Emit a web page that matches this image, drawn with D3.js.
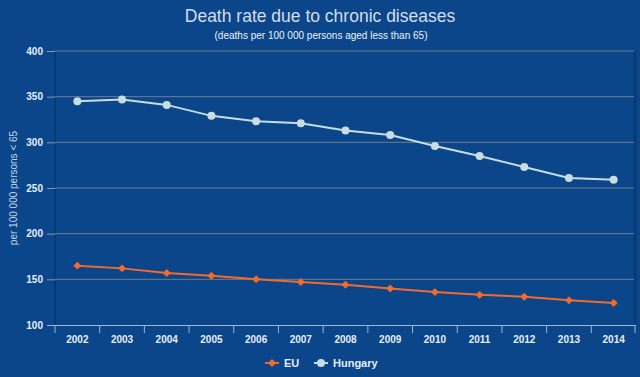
<!DOCTYPE html>
<html>
<head>
<meta charset="utf-8">
<script src="https://cdn.jsdelivr.net/npm/d3@7"></script>
<style>
  html, body { margin: 0; padding: 0; background: #0b458a; }
  svg { display: block; font-family: "Liberation Sans", Arial, sans-serif; }
</style>
</head>
<body>
<div id="chart"></div>
<script>
// Death rate due to chronic diseases — EU vs Hungary

const YEARS   = ["2002","2003","2004","2005","2006","2007","2008","2009","2010","2011","2012","2013","2014"];
const EU      = [165, 162, 157, 154, 150, 147, 144, 140, 136, 133, 131, 127, 124];
const HUNGARY = [345, 347, 341, 329, 323, 321, 313, 308, 296, 285, 273, 261, 259];
const Y_TICKS = [100, 150, 200, 250, 300, 350, 400];

const W = 640, H = 377;
const margin = { top: 51, right: 4, bottom: 52, left: 55 };
const innerW = W - margin.left - margin.right;
const innerH = H - margin.top - margin.bottom;

const svg = d3.select("#chart").append("svg")
  .attr("width", W)
  .attr("height", H);

svg.append("rect")
  .attr("width", W).attr("height", H)
  .attr("fill", "#0b458a");

// Title
svg.append("text")
  .attr("x", W / 2)
  .attr("y", 22)
  .attr("text-anchor", "middle")
  .attr("font-size", 17.5)
  .attr("fill", "#d3deea")
  .text("Death rate due to chronic diseases");

svg.append("text")
  .attr("x", W / 2 + 1)
  .attr("y", 39)
  .attr("text-anchor", "middle")
  .attr("font-size", 10)
  .attr("fill", "#eef3f9")
  .text("(deaths per 100 000 persons aged less than 65)");

const g = svg.append("g")
  .attr("transform", `translate(${margin.left},${margin.top})`);

const x = d3.scaleBand()
  .domain(YEARS)
  .range([0, innerW]);

const y = d3.scaleLinear()
  .domain([100, 400])
  .range([innerH, 0]);

// plot frame shadow lines
g.append("line")
  .attr("x1", 0).attr("x2", 0)
  .attr("y1", 0).attr("y2", innerH)
  .attr("stroke", "#083a73").attr("stroke-width", 2);
g.append("line")
  .attr("x1", innerW - 1).attr("x2", innerW - 1)
  .attr("y1", 0).attr("y2", innerH)
  .attr("stroke", "#083a73").attr("stroke-width", 3);

// Gridlines
g.append("g")
  .selectAll("line")
  .data(Y_TICKS.filter(d => d !== 100))
  .join("line")
  .attr("x1", 0).attr("x2", innerW - 2)
  .attr("y1", d => y(d)).attr("y2", d => y(d))
  .attr("stroke", "#6f7d8f")
  .attr("stroke-width", 1);

// Y axis
const yAxis = g.append("g")
  .call(d3.axisLeft(y).tickValues(Y_TICKS).tickSize(8).tickPadding(4));
yAxis.select(".domain").remove();
yAxis.selectAll(".tick line").attr("stroke", "#7f9bbd");
yAxis.selectAll("text")
  .attr("fill", "#e6eef7")
  .attr("font-size", 10)
  .attr("font-weight", "bold");

// X axis
const xAxis = g.append("g")
  .attr("transform", `translate(0,${innerH})`)
  .call(d3.axisBottom(x).tickSize(0).tickPadding(11));
xAxis.select(".domain")
  .attr("stroke", "#9fb6d2")
  .attr("d", `M-8,0.5H${innerW}`);
xAxis.selectAll("text")
  .attr("fill", "#e6eef7")
  .attr("font-size", 10)
  .attr("font-weight", "bold");

// category boundary ticks
g.append("g")
  .selectAll("line")
  .data(YEARS.concat(["end"]))
  .join("line")
  .attr("x1", (d, i) => i < YEARS.length ? x(d) : x(YEARS[YEARS.length - 1]) + x.bandwidth() - 1)
  .attr("x2", (d, i) => i < YEARS.length ? x(d) : x(YEARS[YEARS.length - 1]) + x.bandwidth() - 1)
  .attr("y1", innerH).attr("y2", innerH + 8)
  .attr("stroke", "#9fb6d2");

// Y axis label
svg.append("text")
  .attr("transform", `translate(17,${margin.top + innerH / 2}) rotate(-90)`)
  .attr("text-anchor", "middle")
  .attr("font-size", 10)
  .attr("fill", "#c8d6e6")
  .text("per 100 000 persons < 65");

const cx = d => x(d) + x.bandwidth() / 2;

const line = d3.line()
  .x((d, i) => cx(YEARS[i]))
  .y(d => y(d));

// Hungary
g.append("path")
  .datum(HUNGARY)
  .attr("fill", "none")
  .attr("stroke", "#c8dde0")
  .attr("stroke-width", 2)
  .attr("d", line);

g.selectAll(".hu-dot")
  .data(HUNGARY)
  .join("circle")
  .attr("class", "hu-dot")
  .attr("cx", (d, i) => cx(YEARS[i]))
  .attr("cy", d => y(d))
  .attr("r", 4)
  .attr("fill", "#c8dde0");

// EU
g.append("path")
  .datum(EU)
  .attr("fill", "none")
  .attr("stroke", "#f56a2c")
  .attr("stroke-width", 2)
  .attr("d", line);

const diamond = d3.symbol().type(d3.symbolDiamond2).size(40);
g.selectAll(".eu-dot")
  .data(EU)
  .join("path")
  .attr("class", "eu-dot")
  .attr("transform", (d, i) => `translate(${cx(YEARS[i])},${y(d)})`)
  .attr("d", diamond)
  .attr("fill", "#f56a2c");

// Legend
const legend = svg.append("g").attr("transform", "translate(265,363)");
const items = [
  { name: "EU", color: "#f56a2c", shape: "diamond", dx: 0 },
  { name: "Hungary", color: "#c8dde0", shape: "circle", dx: 49 }
];
items.forEach(it => {
  const lg = legend.append("g").attr("transform", `translate(${it.dx},0)`);
  lg.append("line")
    .attr("x1", 0).attr("x2", 14)
    .attr("y1", 0).attr("y2", 0)
    .attr("stroke", it.color).attr("stroke-width", 2);
  if (it.shape === "circle") {
    lg.append("circle").attr("cx", 7).attr("cy", 0).attr("r", 4).attr("fill", it.color);
  } else {
    lg.append("path").attr("transform", "translate(7,0)").attr("d", diamond).attr("fill", it.color);
  }
  lg.append("text")
    .attr("x", 19)
    .attr("y", 4)
    .attr("font-size", 11)
    .attr("font-weight", "bold")
    .attr("fill", "#e6eef7")
    .text(it.name);
});
</script>
</body>
</html>
